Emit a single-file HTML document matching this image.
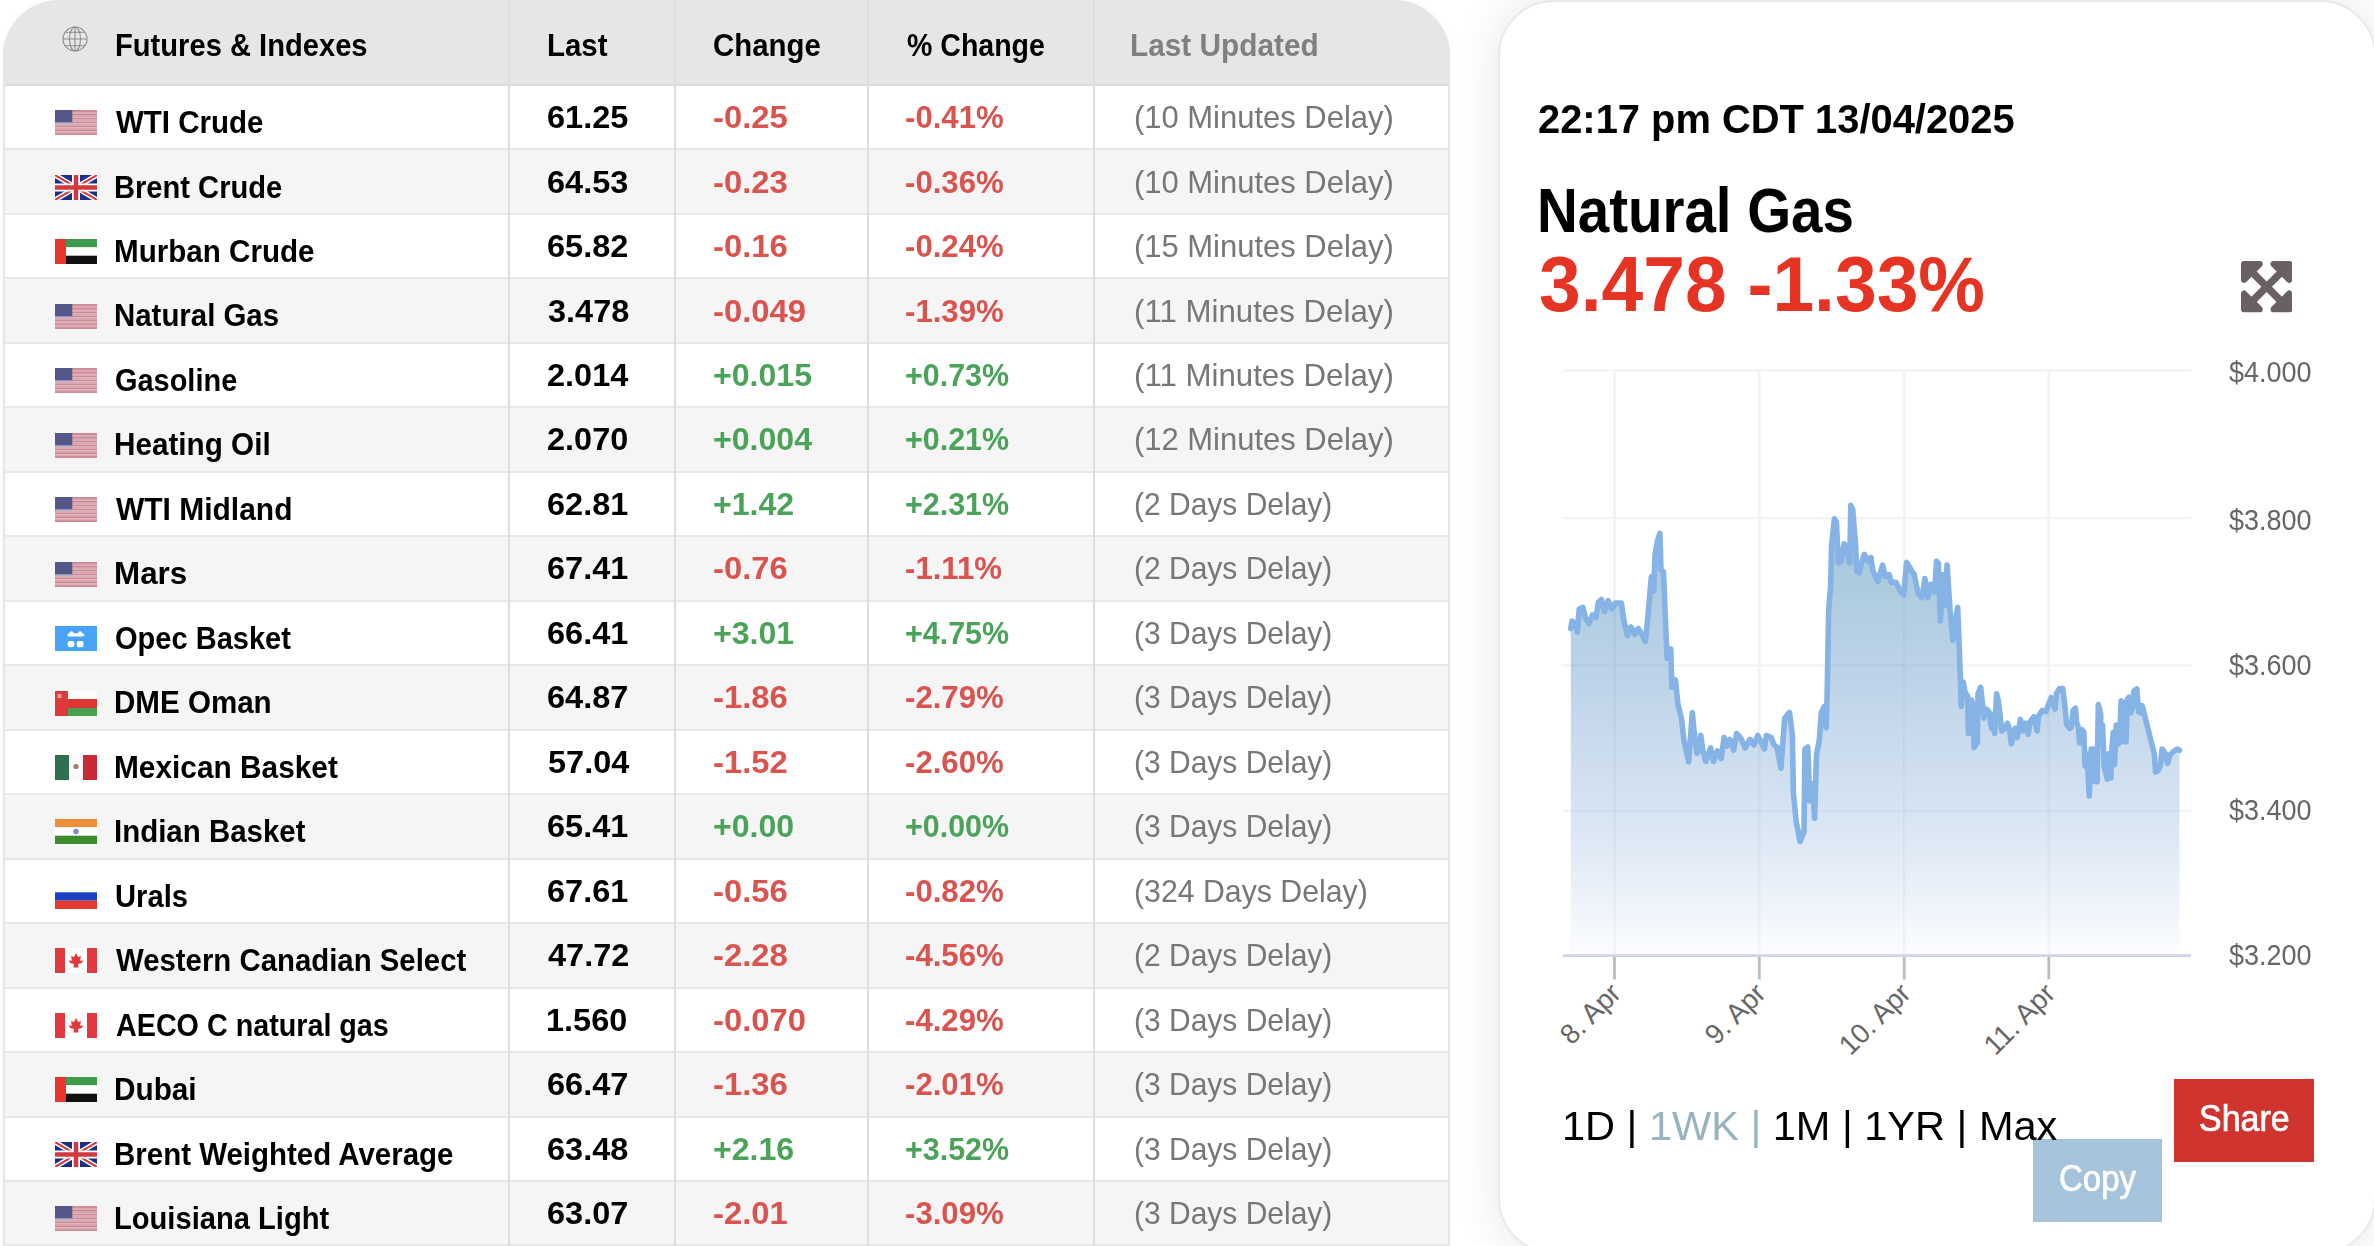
<!DOCTYPE html><html><head><meta charset="utf-8"><title>Futures &amp; Indexes</title><style>
*{margin:0;padding:0;box-sizing:border-box}
html,body{width:2374px;height:1246px;overflow:hidden;background:#fff}
body{position:relative;font-family:"Liberation Sans",sans-serif}
.a{position:absolute}
.t{position:absolute;white-space:nowrap;line-height:normal;transform-origin:0 0}
#tbl{position:absolute;left:3px;top:0;width:1447px;height:1300px;border-radius:56px 56px 0 0;overflow:hidden;background:#fff;box-shadow:0 0 6px rgba(0,0,0,0.04)}
#rp{position:absolute;left:1498px;top:0;width:878px;height:1254px;border-radius:56px;background:#fff;border:2px solid #e9e9e9;box-shadow:0 0 46px rgba(0,0,0,0.10)}
</style></head><body>
<div id="tbl">
<div class="a" style="left:0;top:0;width:1447px;height:84px;background:#e6e6e6"></div>
<div class="a" style="left:0;top:84px;width:1447px;height:2px;background:#dcdcdc"></div>
<div class="a" style="left:0;top:86.00px;width:1447px;height:62.47px;background:#fff"></div>
<div class="a" style="left:0;top:148.47px;width:1447px;height:2px;background:#e8e8e8"></div>
<div class="a" style="left:0;top:150.47px;width:1447px;height:62.47px;background:#f5f5f5"></div>
<div class="a" style="left:0;top:212.94px;width:1447px;height:2px;background:#e8e8e8"></div>
<div class="a" style="left:0;top:214.94px;width:1447px;height:62.47px;background:#fff"></div>
<div class="a" style="left:0;top:277.41px;width:1447px;height:2px;background:#e8e8e8"></div>
<div class="a" style="left:0;top:279.41px;width:1447px;height:62.47px;background:#f5f5f5"></div>
<div class="a" style="left:0;top:341.88px;width:1447px;height:2px;background:#e8e8e8"></div>
<div class="a" style="left:0;top:343.88px;width:1447px;height:62.47px;background:#fff"></div>
<div class="a" style="left:0;top:406.35px;width:1447px;height:2px;background:#e8e8e8"></div>
<div class="a" style="left:0;top:408.35px;width:1447px;height:62.47px;background:#f5f5f5"></div>
<div class="a" style="left:0;top:470.82px;width:1447px;height:2px;background:#e8e8e8"></div>
<div class="a" style="left:0;top:472.82px;width:1447px;height:62.47px;background:#fff"></div>
<div class="a" style="left:0;top:535.29px;width:1447px;height:2px;background:#e8e8e8"></div>
<div class="a" style="left:0;top:537.29px;width:1447px;height:62.47px;background:#f5f5f5"></div>
<div class="a" style="left:0;top:599.76px;width:1447px;height:2px;background:#e8e8e8"></div>
<div class="a" style="left:0;top:601.76px;width:1447px;height:62.47px;background:#fff"></div>
<div class="a" style="left:0;top:664.23px;width:1447px;height:2px;background:#e8e8e8"></div>
<div class="a" style="left:0;top:666.23px;width:1447px;height:62.47px;background:#f5f5f5"></div>
<div class="a" style="left:0;top:728.70px;width:1447px;height:2px;background:#e8e8e8"></div>
<div class="a" style="left:0;top:730.70px;width:1447px;height:62.47px;background:#fff"></div>
<div class="a" style="left:0;top:793.17px;width:1447px;height:2px;background:#e8e8e8"></div>
<div class="a" style="left:0;top:795.17px;width:1447px;height:62.47px;background:#f5f5f5"></div>
<div class="a" style="left:0;top:857.64px;width:1447px;height:2px;background:#e8e8e8"></div>
<div class="a" style="left:0;top:859.64px;width:1447px;height:62.47px;background:#fff"></div>
<div class="a" style="left:0;top:922.11px;width:1447px;height:2px;background:#e8e8e8"></div>
<div class="a" style="left:0;top:924.11px;width:1447px;height:62.47px;background:#f5f5f5"></div>
<div class="a" style="left:0;top:986.58px;width:1447px;height:2px;background:#e8e8e8"></div>
<div class="a" style="left:0;top:988.58px;width:1447px;height:62.47px;background:#fff"></div>
<div class="a" style="left:0;top:1051.05px;width:1447px;height:2px;background:#e8e8e8"></div>
<div class="a" style="left:0;top:1053.05px;width:1447px;height:62.47px;background:#f5f5f5"></div>
<div class="a" style="left:0;top:1115.52px;width:1447px;height:2px;background:#e8e8e8"></div>
<div class="a" style="left:0;top:1117.52px;width:1447px;height:62.47px;background:#fff"></div>
<div class="a" style="left:0;top:1179.99px;width:1447px;height:2px;background:#e8e8e8"></div>
<div class="a" style="left:0;top:1181.99px;width:1447px;height:62.47px;background:#f5f5f5"></div>
<div class="a" style="left:0;top:1244.46px;width:1447px;height:2px;background:#e8e8e8"></div>
<div class="a" style="left:0px;top:0;width:2px;height:1300px;background:#e6e6e6"></div>
<div class="a" style="left:505px;top:0;width:2px;height:1300px;background:#dedede"></div>
<div class="a" style="left:671px;top:0;width:2px;height:1300px;background:#dedede"></div>
<div class="a" style="left:864px;top:0;width:2px;height:1300px;background:#dedede"></div>
<div class="a" style="left:1090px;top:0;width:2px;height:1300px;background:#dedede"></div>
<div class="a" style="left:1445px;top:0;width:2px;height:1300px;background:#e6e6e6"></div>
</div>
<svg class="a" style="left:60.8px;top:25.2px" width="28" height="28" viewBox="0 0 28 28" fill="none" stroke="#8c8c8c" stroke-width="1.1"><circle cx="14" cy="14" r="12"/><ellipse cx="14" cy="14" rx="5.5" ry="12"/><path d="M14,2 V26 M2,14 H26 M4.3,7.2 H23.7 M4.3,20.8 H23.7"/></svg>
<svg class="a" style="left:55px;top:110.30px" width="42" height="25" viewBox="0 0 42 25"><rect x="0" y="0.000" width="42" height="1.973" fill="#cd8b95"/><rect x="0" y="1.923" width="42" height="1.973" fill="#dcaab1"/><rect x="0" y="3.846" width="42" height="1.973" fill="#cd8b95"/><rect x="0" y="5.769" width="42" height="1.973" fill="#dcaab1"/><rect x="0" y="7.692" width="42" height="1.973" fill="#cd8b95"/><rect x="0" y="9.615" width="42" height="1.973" fill="#dcaab1"/><rect x="0" y="11.538" width="42" height="1.973" fill="#cd8b95"/><rect x="0" y="13.462" width="42" height="1.973" fill="#dcaab1"/><rect x="0" y="15.385" width="42" height="1.973" fill="#cd8b95"/><rect x="0" y="17.308" width="42" height="1.973" fill="#dcaab1"/><rect x="0" y="19.231" width="42" height="1.973" fill="#cd8b95"/><rect x="0" y="21.154" width="42" height="1.973" fill="#dcaab1"/><rect x="0" y="23.077" width="42" height="1.973" fill="#cd8b95"/><rect x="0" y="0" width="17.3" height="12.5" fill="#545889"/><rect x="0" y="12.5" width="17.3" height="1.3" fill="#a9b3d6"/></svg>
<svg class="a" style="left:55px;top:174.77px" width="42" height="25" viewBox="0 0 42 25"><rect width="42" height="25" fill="#1b2f86"/><path d="M0,0 L42,25 M42,0 L0,25" stroke="#fff" stroke-width="5"/><path d="M0,0 L42,25 M42,0 L0,25" stroke="#d33a3f" stroke-width="2"/><path d="M21,0 V25 M0,12.5 H42" stroke="#fff" stroke-width="8"/><path d="M21,0 V25 M0,12.5 H42" stroke="#d33a3f" stroke-width="4.5"/></svg>
<svg class="a" style="left:55px;top:239.24px" width="42" height="25" viewBox="0 0 42 25"><rect width="42" height="8.4" fill="#3e9a4c"/><rect y="8.4" width="42" height="8.3" fill="#fff"/><rect y="16.7" width="42" height="8.3" fill="#111"/><rect width="11" height="25" fill="#e8352e"/></svg>
<svg class="a" style="left:55px;top:303.71px" width="42" height="25" viewBox="0 0 42 25"><rect x="0" y="0.000" width="42" height="1.973" fill="#cd8b95"/><rect x="0" y="1.923" width="42" height="1.973" fill="#dcaab1"/><rect x="0" y="3.846" width="42" height="1.973" fill="#cd8b95"/><rect x="0" y="5.769" width="42" height="1.973" fill="#dcaab1"/><rect x="0" y="7.692" width="42" height="1.973" fill="#cd8b95"/><rect x="0" y="9.615" width="42" height="1.973" fill="#dcaab1"/><rect x="0" y="11.538" width="42" height="1.973" fill="#cd8b95"/><rect x="0" y="13.462" width="42" height="1.973" fill="#dcaab1"/><rect x="0" y="15.385" width="42" height="1.973" fill="#cd8b95"/><rect x="0" y="17.308" width="42" height="1.973" fill="#dcaab1"/><rect x="0" y="19.231" width="42" height="1.973" fill="#cd8b95"/><rect x="0" y="21.154" width="42" height="1.973" fill="#dcaab1"/><rect x="0" y="23.077" width="42" height="1.973" fill="#cd8b95"/><rect x="0" y="0" width="17.3" height="12.5" fill="#545889"/><rect x="0" y="12.5" width="17.3" height="1.3" fill="#a9b3d6"/></svg>
<svg class="a" style="left:55px;top:368.18px" width="42" height="25" viewBox="0 0 42 25"><rect x="0" y="0.000" width="42" height="1.973" fill="#cd8b95"/><rect x="0" y="1.923" width="42" height="1.973" fill="#dcaab1"/><rect x="0" y="3.846" width="42" height="1.973" fill="#cd8b95"/><rect x="0" y="5.769" width="42" height="1.973" fill="#dcaab1"/><rect x="0" y="7.692" width="42" height="1.973" fill="#cd8b95"/><rect x="0" y="9.615" width="42" height="1.973" fill="#dcaab1"/><rect x="0" y="11.538" width="42" height="1.973" fill="#cd8b95"/><rect x="0" y="13.462" width="42" height="1.973" fill="#dcaab1"/><rect x="0" y="15.385" width="42" height="1.973" fill="#cd8b95"/><rect x="0" y="17.308" width="42" height="1.973" fill="#dcaab1"/><rect x="0" y="19.231" width="42" height="1.973" fill="#cd8b95"/><rect x="0" y="21.154" width="42" height="1.973" fill="#dcaab1"/><rect x="0" y="23.077" width="42" height="1.973" fill="#cd8b95"/><rect x="0" y="0" width="17.3" height="12.5" fill="#545889"/><rect x="0" y="12.5" width="17.3" height="1.3" fill="#a9b3d6"/></svg>
<svg class="a" style="left:55px;top:432.65px" width="42" height="25" viewBox="0 0 42 25"><rect x="0" y="0.000" width="42" height="1.973" fill="#cd8b95"/><rect x="0" y="1.923" width="42" height="1.973" fill="#dcaab1"/><rect x="0" y="3.846" width="42" height="1.973" fill="#cd8b95"/><rect x="0" y="5.769" width="42" height="1.973" fill="#dcaab1"/><rect x="0" y="7.692" width="42" height="1.973" fill="#cd8b95"/><rect x="0" y="9.615" width="42" height="1.973" fill="#dcaab1"/><rect x="0" y="11.538" width="42" height="1.973" fill="#cd8b95"/><rect x="0" y="13.462" width="42" height="1.973" fill="#dcaab1"/><rect x="0" y="15.385" width="42" height="1.973" fill="#cd8b95"/><rect x="0" y="17.308" width="42" height="1.973" fill="#dcaab1"/><rect x="0" y="19.231" width="42" height="1.973" fill="#cd8b95"/><rect x="0" y="21.154" width="42" height="1.973" fill="#dcaab1"/><rect x="0" y="23.077" width="42" height="1.973" fill="#cd8b95"/><rect x="0" y="0" width="17.3" height="12.5" fill="#545889"/><rect x="0" y="12.5" width="17.3" height="1.3" fill="#a9b3d6"/></svg>
<svg class="a" style="left:55px;top:497.12px" width="42" height="25" viewBox="0 0 42 25"><rect x="0" y="0.000" width="42" height="1.973" fill="#cd8b95"/><rect x="0" y="1.923" width="42" height="1.973" fill="#dcaab1"/><rect x="0" y="3.846" width="42" height="1.973" fill="#cd8b95"/><rect x="0" y="5.769" width="42" height="1.973" fill="#dcaab1"/><rect x="0" y="7.692" width="42" height="1.973" fill="#cd8b95"/><rect x="0" y="9.615" width="42" height="1.973" fill="#dcaab1"/><rect x="0" y="11.538" width="42" height="1.973" fill="#cd8b95"/><rect x="0" y="13.462" width="42" height="1.973" fill="#dcaab1"/><rect x="0" y="15.385" width="42" height="1.973" fill="#cd8b95"/><rect x="0" y="17.308" width="42" height="1.973" fill="#dcaab1"/><rect x="0" y="19.231" width="42" height="1.973" fill="#cd8b95"/><rect x="0" y="21.154" width="42" height="1.973" fill="#dcaab1"/><rect x="0" y="23.077" width="42" height="1.973" fill="#cd8b95"/><rect x="0" y="0" width="17.3" height="12.5" fill="#545889"/><rect x="0" y="12.5" width="17.3" height="1.3" fill="#a9b3d6"/></svg>
<svg class="a" style="left:55px;top:561.59px" width="42" height="25" viewBox="0 0 42 25"><rect x="0" y="0.000" width="42" height="1.973" fill="#cd8b95"/><rect x="0" y="1.923" width="42" height="1.973" fill="#dcaab1"/><rect x="0" y="3.846" width="42" height="1.973" fill="#cd8b95"/><rect x="0" y="5.769" width="42" height="1.973" fill="#dcaab1"/><rect x="0" y="7.692" width="42" height="1.973" fill="#cd8b95"/><rect x="0" y="9.615" width="42" height="1.973" fill="#dcaab1"/><rect x="0" y="11.538" width="42" height="1.973" fill="#cd8b95"/><rect x="0" y="13.462" width="42" height="1.973" fill="#dcaab1"/><rect x="0" y="15.385" width="42" height="1.973" fill="#cd8b95"/><rect x="0" y="17.308" width="42" height="1.973" fill="#dcaab1"/><rect x="0" y="19.231" width="42" height="1.973" fill="#cd8b95"/><rect x="0" y="21.154" width="42" height="1.973" fill="#dcaab1"/><rect x="0" y="23.077" width="42" height="1.973" fill="#cd8b95"/><rect x="0" y="0" width="17.3" height="12.5" fill="#545889"/><rect x="0" y="12.5" width="17.3" height="1.3" fill="#a9b3d6"/></svg>
<svg class="a" style="left:55px;top:626.06px" width="42" height="25" viewBox="0 0 42 25"><defs><filter id="ob" x="-20%" y="-20%" width="140%" height="140%"><feGaussianBlur stdDeviation="0.7"/></filter></defs><rect width="42" height="25" fill="#48a2f6"/><g fill="#fff" filter="url(#ob)"><rect x="12.5" y="7.3" width="16.8" height="3.2" rx="1.6"/><circle cx="16.5" cy="7.4" r="2.1"/><circle cx="25" cy="7.4" r="2.1"/><rect x="12.6" y="15" width="6.8" height="6.2" rx="2.4"/><rect x="21.8" y="15" width="6.6" height="6.2" rx="1.5"/></g></svg>
<svg class="a" style="left:55px;top:690.53px" width="42" height="25" viewBox="0 0 42 25"><rect width="42" height="8" fill="#fcfcfc"/><rect y="8" width="42" height="9" fill="#de3633"/><rect y="17" width="42" height="8" fill="#4aa052"/><rect width="13" height="25" fill="#df3a3b"/><rect x="2.5" y="3" width="4" height="4" fill="#e8a0a2"/></svg>
<svg class="a" style="left:55px;top:755.00px" width="42" height="25" viewBox="0 0 42 25"><rect width="14" height="25" fill="#2e7050"/><rect x="14" width="14" height="25" fill="#fafafa"/><rect x="28" width="14" height="25" fill="#c82a38"/><circle cx="21" cy="11.5" r="2.6" fill="#a8805e"/></svg>
<svg class="a" style="left:55px;top:819.47px" width="42" height="25" viewBox="0 0 42 25"><rect width="42" height="8.3" fill="#f08d3a"/><rect y="8.3" width="42" height="8.4" fill="#fff"/><rect y="16.7" width="42" height="8.3" fill="#3d8d2e"/><circle cx="21" cy="12.5" r="2.7" fill="#7c86de"/></svg>
<svg class="a" style="left:55px;top:883.94px" width="42" height="25" viewBox="0 0 42 25"><rect width="42" height="8.3" fill="#fff"/><rect y="8.3" width="42" height="8.4" fill="#1c3fc4"/><rect y="16.7" width="42" height="8.3" fill="#e63a30"/></svg>
<svg class="a" style="left:55px;top:948.41px" width="42" height="25" viewBox="0 0 42 25"><rect width="42" height="25" fill="#fff"/><rect width="10" height="25" fill="#e0393f"/><rect x="32" width="10" height="25" fill="#e0393f"/><path d="M21,5 L23,9 L26,8 L25,13 L28,12 L27,15 L23,16 L23.6,19.5 L18.4,19.5 L19,16 L15,15 L14,12 L17,13 L16,8 L19,9 Z" fill="#e0393f"/></svg>
<svg class="a" style="left:55px;top:1012.88px" width="42" height="25" viewBox="0 0 42 25"><rect width="42" height="25" fill="#fff"/><rect width="10" height="25" fill="#e0393f"/><rect x="32" width="10" height="25" fill="#e0393f"/><path d="M21,5 L23,9 L26,8 L25,13 L28,12 L27,15 L23,16 L23.6,19.5 L18.4,19.5 L19,16 L15,15 L14,12 L17,13 L16,8 L19,9 Z" fill="#e0393f"/></svg>
<svg class="a" style="left:55px;top:1077.35px" width="42" height="25" viewBox="0 0 42 25"><rect width="42" height="8.4" fill="#3e9a4c"/><rect y="8.4" width="42" height="8.3" fill="#fff"/><rect y="16.7" width="42" height="8.3" fill="#111"/><rect width="11" height="25" fill="#e8352e"/></svg>
<svg class="a" style="left:55px;top:1141.82px" width="42" height="25" viewBox="0 0 42 25"><rect width="42" height="25" fill="#1b2f86"/><path d="M0,0 L42,25 M42,0 L0,25" stroke="#fff" stroke-width="5"/><path d="M0,0 L42,25 M42,0 L0,25" stroke="#d33a3f" stroke-width="2"/><path d="M21,0 V25 M0,12.5 H42" stroke="#fff" stroke-width="8"/><path d="M21,0 V25 M0,12.5 H42" stroke="#d33a3f" stroke-width="4.5"/></svg>
<svg class="a" style="left:55px;top:1206.29px" width="42" height="25" viewBox="0 0 42 25"><rect x="0" y="0.000" width="42" height="1.973" fill="#cd8b95"/><rect x="0" y="1.923" width="42" height="1.973" fill="#dcaab1"/><rect x="0" y="3.846" width="42" height="1.973" fill="#cd8b95"/><rect x="0" y="5.769" width="42" height="1.973" fill="#dcaab1"/><rect x="0" y="7.692" width="42" height="1.973" fill="#cd8b95"/><rect x="0" y="9.615" width="42" height="1.973" fill="#dcaab1"/><rect x="0" y="11.538" width="42" height="1.973" fill="#cd8b95"/><rect x="0" y="13.462" width="42" height="1.973" fill="#dcaab1"/><rect x="0" y="15.385" width="42" height="1.973" fill="#cd8b95"/><rect x="0" y="17.308" width="42" height="1.973" fill="#dcaab1"/><rect x="0" y="19.231" width="42" height="1.973" fill="#cd8b95"/><rect x="0" y="21.154" width="42" height="1.973" fill="#dcaab1"/><rect x="0" y="23.077" width="42" height="1.973" fill="#cd8b95"/><rect x="0" y="0" width="17.3" height="12.5" fill="#545889"/><rect x="0" y="12.5" width="17.3" height="1.3" fill="#a9b3d6"/></svg>
<div id="rp"></div>
<svg class="a" style="left:1540px;top:340px" width="800" height="740" viewBox="1540 340 800 740"><defs><linearGradient id="fg" x1="0" y1="505" x2="0" y2="955" gradientUnits="userSpaceOnUse"><stop offset="0.0000" stop-color="rgb(165,198,220)"/><stop offset="0.1889" stop-color="rgb(174,204,224)"/><stop offset="0.3667" stop-color="rgb(188,210,232)"/><stop offset="0.5444" stop-color="rgb(203,220,238)"/><stop offset="0.6778" stop-color="rgb(214,228,243)"/><stop offset="0.8333" stop-color="rgb(232,239,248)"/><stop offset="1.0000" stop-color="rgb(252,253,255)"/></linearGradient></defs><rect x="1563" y="369.5" width="628" height="2" fill="#f2f2f2" transform="translate(0,0)" /><rect x="1563" y="517.3" width="628" height="2" fill="#f2f2f2" transform="translate(0,0)" /><rect x="1563" y="664.5" width="628" height="2" fill="#f2f2f2" transform="translate(0,0)" /><rect x="1563" y="809.7" width="628" height="2" fill="#f2f2f2" transform="translate(0,0)" /><rect x="1613.1" y="370.5" width="2.8" height="585" fill="#f3f3f3"/><rect x="1757.9" y="370.5" width="2.8" height="585" fill="#f3f3f3"/><rect x="1902.8" y="370.5" width="2.8" height="585" fill="#f3f3f3"/><rect x="2047.4" y="370.5" width="2.8" height="585" fill="#f3f3f3"/><path d="M1570.8,955.5 L1570.8,628.4 L1572.0,621.0 L1575.6,623.5 L1577.3,632.0 L1579.2,609.0 L1582.9,607.4 L1585.3,617.5 L1588.9,623.5 L1592.5,615.0 L1596.0,617.5 L1598.5,602.0 L1601.4,599.5 L1604.5,611.5 L1608.1,600.7 L1611.7,609.0 L1615.3,603.0 L1621.4,603.0 L1623.8,620.0 L1627.4,635.6 L1631.0,627.0 L1634.6,634.4 L1638.2,628.4 L1641.8,634.4 L1645.4,641.6 L1647.8,617.5 L1651.4,576.6 L1653.8,591.0 L1655.0,555.0 L1657.5,540.5 L1659.9,533.3 L1661.0,569.4 L1663.5,571.8 L1665.9,632.0 L1667.1,658.4 L1670.7,648.8 L1671.9,687.3 L1675.5,680.0 L1677.9,704.2 L1681.5,718.6 L1683.9,740.2 L1688.7,761.9 L1692.3,712.6 L1694.7,737.8 L1697.2,753.5 L1700.8,735.4 L1702.9,751.0 L1705.8,761.5 L1710.6,748.0 L1713.5,761.5 L1717.3,751.0 L1721.2,758.6 L1724.1,737.4 L1727.0,746.0 L1729.8,739.4 L1733.7,750.0 L1736.6,733.6 L1740.4,737.4 L1745.2,748.0 L1750.0,739.4 L1753.9,745.0 L1757.8,735.5 L1764.5,749.0 L1766.4,735.5 L1771.2,737.4 L1774.1,745.0 L1777.0,747.0 L1780.9,768.2 L1784.7,718.2 L1789.5,712.4 L1792.4,735.5 L1793.4,793.3 L1796.3,822.2 L1800.1,841.4 L1804.0,831.8 L1804.9,749.0 L1807.8,747.0 L1809.7,801.0 L1812.6,783.6 L1814.6,818.3 L1816.5,754.8 L1819.4,739.4 L1821.3,712.4 L1824.2,706.6 L1826.1,727.8 L1827.1,697.0 L1828.7,609.4 L1830.6,586.3 L1831.6,545.8 L1834.4,518.9 L1836.4,521.8 L1838.3,563.2 L1841.2,561.2 L1844.1,543.9 L1847.0,547.8 L1849.8,563.2 L1850.8,505.4 L1852.7,509.3 L1855.6,545.8 L1856.6,570.9 L1859.5,572.8 L1861.4,563.2 L1864.3,554.5 L1868.1,561.2 L1871.0,557.4 L1872.9,570.9 L1877.8,581.5 L1882.6,565.1 L1885.5,576.6 L1889.3,574.7 L1891.2,582.4 L1896.0,582.4 L1900.9,592.0 L1903.7,594.9 L1906.6,562.2 L1910.5,568.9 L1914.3,574.7 L1918.2,594.0 L1922.0,597.8 L1924.9,578.6 L1927.8,597.8 L1930.7,584.3 L1934.6,592.0 L1936.5,561.2 L1938.4,563.2 L1940.3,620.9 L1943.2,574.7 L1945.1,605.5 L1947.1,565.1 L1950.0,609.4 L1952.8,640.2 L1954.8,624.8 L1957.7,607.4 L1959.6,657.5 L1961.3,706.5 L1963.2,682.1 L1965.1,692.4 L1967.7,696.3 L1968.4,733.5 L1970.3,732.2 L1971.6,700.1 L1973.5,710.4 L1974.1,747.6 L1977.3,742.5 L1978.0,693.7 L1980.6,687.3 L1982.5,704.0 L1983.8,718.1 L1986.3,709.1 L1988.9,711.7 L1991.5,728.4 L1992.8,714.2 L1994.7,733.5 L1996.6,693.7 L1998.5,701.4 L2001.8,731.0 L2005.0,728.4 L2007.5,723.2 L2009.5,729.7 L2011.4,743.8 L2015.2,728.4 L2017.2,737.4 L2020.4,719.4 L2023.0,731.0 L2025.5,723.2 L2028.1,734.2 L2030.0,722.0 L2033.9,716.8 L2037.1,731.0 L2038.4,716.8 L2042.2,710.4 L2046.1,711.7 L2048.7,704.0 L2051.2,697.5 L2055.1,709.1 L2056.4,693.7 L2059.6,688.5 L2062.8,688.5 L2064.7,704.0 L2066.6,724.5 L2069.9,728.4 L2071.2,727.4 L2073.0,710.6 L2075.4,708.1 L2076.6,722.6 L2078.4,727.4 L2079.6,743.0 L2082.0,729.8 L2083.8,732.2 L2085.0,765.9 L2086.9,753.9 L2089.3,796.0 L2091.1,749.1 L2092.9,749.1 L2095.3,781.6 L2097.1,781.6 L2098.3,704.5 L2100.7,714.2 L2100.7,738.2 L2102.5,725.0 L2104.3,767.1 L2107.3,779.2 L2108.5,753.9 L2110.9,778.0 L2111.5,752.7 L2113.3,732.2 L2114.5,764.7 L2116.3,725.0 L2117.5,744.3 L2119.3,743.1 L2121.2,700.9 L2123.0,703.3 L2124.2,741.8 L2126.0,741.8 L2127.2,699.7 L2129.0,697.3 L2130.8,713.0 L2132.6,706.9 L2133.8,691.3 L2136.8,688.9 L2138.6,711.8 L2141.0,713.0 L2142.2,705.7 L2154.3,753.9 L2155.5,771.9 L2157.9,770.7 L2160.3,765.9 L2162.1,749.1 L2165.1,752.7 L2167.5,763.5 L2169.9,755.1 L2173.5,751.5 L2177.1,749.1 L2179.5,750.3 L2179.5,955.5 Z" fill="url(#fg)"/><clipPath id="ac"><path d="M1570.8,955.5 L1570.8,628.4 L1572.0,621.0 L1575.6,623.5 L1577.3,632.0 L1579.2,609.0 L1582.9,607.4 L1585.3,617.5 L1588.9,623.5 L1592.5,615.0 L1596.0,617.5 L1598.5,602.0 L1601.4,599.5 L1604.5,611.5 L1608.1,600.7 L1611.7,609.0 L1615.3,603.0 L1621.4,603.0 L1623.8,620.0 L1627.4,635.6 L1631.0,627.0 L1634.6,634.4 L1638.2,628.4 L1641.8,634.4 L1645.4,641.6 L1647.8,617.5 L1651.4,576.6 L1653.8,591.0 L1655.0,555.0 L1657.5,540.5 L1659.9,533.3 L1661.0,569.4 L1663.5,571.8 L1665.9,632.0 L1667.1,658.4 L1670.7,648.8 L1671.9,687.3 L1675.5,680.0 L1677.9,704.2 L1681.5,718.6 L1683.9,740.2 L1688.7,761.9 L1692.3,712.6 L1694.7,737.8 L1697.2,753.5 L1700.8,735.4 L1702.9,751.0 L1705.8,761.5 L1710.6,748.0 L1713.5,761.5 L1717.3,751.0 L1721.2,758.6 L1724.1,737.4 L1727.0,746.0 L1729.8,739.4 L1733.7,750.0 L1736.6,733.6 L1740.4,737.4 L1745.2,748.0 L1750.0,739.4 L1753.9,745.0 L1757.8,735.5 L1764.5,749.0 L1766.4,735.5 L1771.2,737.4 L1774.1,745.0 L1777.0,747.0 L1780.9,768.2 L1784.7,718.2 L1789.5,712.4 L1792.4,735.5 L1793.4,793.3 L1796.3,822.2 L1800.1,841.4 L1804.0,831.8 L1804.9,749.0 L1807.8,747.0 L1809.7,801.0 L1812.6,783.6 L1814.6,818.3 L1816.5,754.8 L1819.4,739.4 L1821.3,712.4 L1824.2,706.6 L1826.1,727.8 L1827.1,697.0 L1828.7,609.4 L1830.6,586.3 L1831.6,545.8 L1834.4,518.9 L1836.4,521.8 L1838.3,563.2 L1841.2,561.2 L1844.1,543.9 L1847.0,547.8 L1849.8,563.2 L1850.8,505.4 L1852.7,509.3 L1855.6,545.8 L1856.6,570.9 L1859.5,572.8 L1861.4,563.2 L1864.3,554.5 L1868.1,561.2 L1871.0,557.4 L1872.9,570.9 L1877.8,581.5 L1882.6,565.1 L1885.5,576.6 L1889.3,574.7 L1891.2,582.4 L1896.0,582.4 L1900.9,592.0 L1903.7,594.9 L1906.6,562.2 L1910.5,568.9 L1914.3,574.7 L1918.2,594.0 L1922.0,597.8 L1924.9,578.6 L1927.8,597.8 L1930.7,584.3 L1934.6,592.0 L1936.5,561.2 L1938.4,563.2 L1940.3,620.9 L1943.2,574.7 L1945.1,605.5 L1947.1,565.1 L1950.0,609.4 L1952.8,640.2 L1954.8,624.8 L1957.7,607.4 L1959.6,657.5 L1961.3,706.5 L1963.2,682.1 L1965.1,692.4 L1967.7,696.3 L1968.4,733.5 L1970.3,732.2 L1971.6,700.1 L1973.5,710.4 L1974.1,747.6 L1977.3,742.5 L1978.0,693.7 L1980.6,687.3 L1982.5,704.0 L1983.8,718.1 L1986.3,709.1 L1988.9,711.7 L1991.5,728.4 L1992.8,714.2 L1994.7,733.5 L1996.6,693.7 L1998.5,701.4 L2001.8,731.0 L2005.0,728.4 L2007.5,723.2 L2009.5,729.7 L2011.4,743.8 L2015.2,728.4 L2017.2,737.4 L2020.4,719.4 L2023.0,731.0 L2025.5,723.2 L2028.1,734.2 L2030.0,722.0 L2033.9,716.8 L2037.1,731.0 L2038.4,716.8 L2042.2,710.4 L2046.1,711.7 L2048.7,704.0 L2051.2,697.5 L2055.1,709.1 L2056.4,693.7 L2059.6,688.5 L2062.8,688.5 L2064.7,704.0 L2066.6,724.5 L2069.9,728.4 L2071.2,727.4 L2073.0,710.6 L2075.4,708.1 L2076.6,722.6 L2078.4,727.4 L2079.6,743.0 L2082.0,729.8 L2083.8,732.2 L2085.0,765.9 L2086.9,753.9 L2089.3,796.0 L2091.1,749.1 L2092.9,749.1 L2095.3,781.6 L2097.1,781.6 L2098.3,704.5 L2100.7,714.2 L2100.7,738.2 L2102.5,725.0 L2104.3,767.1 L2107.3,779.2 L2108.5,753.9 L2110.9,778.0 L2111.5,752.7 L2113.3,732.2 L2114.5,764.7 L2116.3,725.0 L2117.5,744.3 L2119.3,743.1 L2121.2,700.9 L2123.0,703.3 L2124.2,741.8 L2126.0,741.8 L2127.2,699.7 L2129.0,697.3 L2130.8,713.0 L2132.6,706.9 L2133.8,691.3 L2136.8,688.9 L2138.6,711.8 L2141.0,713.0 L2142.2,705.7 L2154.3,753.9 L2155.5,771.9 L2157.9,770.7 L2160.3,765.9 L2162.1,749.1 L2165.1,752.7 L2167.5,763.5 L2169.9,755.1 L2173.5,751.5 L2177.1,749.1 L2179.5,750.3 L2179.5,955.5 Z"/></clipPath><g clip-path="url(#ac)" fill="rgba(40,40,80,0.035)"><rect x="1563" y="664.5" width="628" height="2"/><rect x="1563" y="809.7" width="628" height="2"/><rect x="1613.1" y="370.5" width="2.8" height="585"/><rect x="1757.9" y="370.5" width="2.8" height="585"/><rect x="1902.8" y="370.5" width="2.8" height="585"/><rect x="2047.4" y="370.5" width="2.8" height="585"/></g><path d="M1570.8,628.4 L1572.0,621.0 L1575.6,623.5 L1577.3,632.0 L1579.2,609.0 L1582.9,607.4 L1585.3,617.5 L1588.9,623.5 L1592.5,615.0 L1596.0,617.5 L1598.5,602.0 L1601.4,599.5 L1604.5,611.5 L1608.1,600.7 L1611.7,609.0 L1615.3,603.0 L1621.4,603.0 L1623.8,620.0 L1627.4,635.6 L1631.0,627.0 L1634.6,634.4 L1638.2,628.4 L1641.8,634.4 L1645.4,641.6 L1647.8,617.5 L1651.4,576.6 L1653.8,591.0 L1655.0,555.0 L1657.5,540.5 L1659.9,533.3 L1661.0,569.4 L1663.5,571.8 L1665.9,632.0 L1667.1,658.4 L1670.7,648.8 L1671.9,687.3 L1675.5,680.0 L1677.9,704.2 L1681.5,718.6 L1683.9,740.2 L1688.7,761.9 L1692.3,712.6 L1694.7,737.8 L1697.2,753.5 L1700.8,735.4 L1702.9,751.0 L1705.8,761.5 L1710.6,748.0 L1713.5,761.5 L1717.3,751.0 L1721.2,758.6 L1724.1,737.4 L1727.0,746.0 L1729.8,739.4 L1733.7,750.0 L1736.6,733.6 L1740.4,737.4 L1745.2,748.0 L1750.0,739.4 L1753.9,745.0 L1757.8,735.5 L1764.5,749.0 L1766.4,735.5 L1771.2,737.4 L1774.1,745.0 L1777.0,747.0 L1780.9,768.2 L1784.7,718.2 L1789.5,712.4 L1792.4,735.5 L1793.4,793.3 L1796.3,822.2 L1800.1,841.4 L1804.0,831.8 L1804.9,749.0 L1807.8,747.0 L1809.7,801.0 L1812.6,783.6 L1814.6,818.3 L1816.5,754.8 L1819.4,739.4 L1821.3,712.4 L1824.2,706.6 L1826.1,727.8 L1827.1,697.0 L1828.7,609.4 L1830.6,586.3 L1831.6,545.8 L1834.4,518.9 L1836.4,521.8 L1838.3,563.2 L1841.2,561.2 L1844.1,543.9 L1847.0,547.8 L1849.8,563.2 L1850.8,505.4 L1852.7,509.3 L1855.6,545.8 L1856.6,570.9 L1859.5,572.8 L1861.4,563.2 L1864.3,554.5 L1868.1,561.2 L1871.0,557.4 L1872.9,570.9 L1877.8,581.5 L1882.6,565.1 L1885.5,576.6 L1889.3,574.7 L1891.2,582.4 L1896.0,582.4 L1900.9,592.0 L1903.7,594.9 L1906.6,562.2 L1910.5,568.9 L1914.3,574.7 L1918.2,594.0 L1922.0,597.8 L1924.9,578.6 L1927.8,597.8 L1930.7,584.3 L1934.6,592.0 L1936.5,561.2 L1938.4,563.2 L1940.3,620.9 L1943.2,574.7 L1945.1,605.5 L1947.1,565.1 L1950.0,609.4 L1952.8,640.2 L1954.8,624.8 L1957.7,607.4 L1959.6,657.5 L1961.3,706.5 L1963.2,682.1 L1965.1,692.4 L1967.7,696.3 L1968.4,733.5 L1970.3,732.2 L1971.6,700.1 L1973.5,710.4 L1974.1,747.6 L1977.3,742.5 L1978.0,693.7 L1980.6,687.3 L1982.5,704.0 L1983.8,718.1 L1986.3,709.1 L1988.9,711.7 L1991.5,728.4 L1992.8,714.2 L1994.7,733.5 L1996.6,693.7 L1998.5,701.4 L2001.8,731.0 L2005.0,728.4 L2007.5,723.2 L2009.5,729.7 L2011.4,743.8 L2015.2,728.4 L2017.2,737.4 L2020.4,719.4 L2023.0,731.0 L2025.5,723.2 L2028.1,734.2 L2030.0,722.0 L2033.9,716.8 L2037.1,731.0 L2038.4,716.8 L2042.2,710.4 L2046.1,711.7 L2048.7,704.0 L2051.2,697.5 L2055.1,709.1 L2056.4,693.7 L2059.6,688.5 L2062.8,688.5 L2064.7,704.0 L2066.6,724.5 L2069.9,728.4 L2071.2,727.4 L2073.0,710.6 L2075.4,708.1 L2076.6,722.6 L2078.4,727.4 L2079.6,743.0 L2082.0,729.8 L2083.8,732.2 L2085.0,765.9 L2086.9,753.9 L2089.3,796.0 L2091.1,749.1 L2092.9,749.1 L2095.3,781.6 L2097.1,781.6 L2098.3,704.5 L2100.7,714.2 L2100.7,738.2 L2102.5,725.0 L2104.3,767.1 L2107.3,779.2 L2108.5,753.9 L2110.9,778.0 L2111.5,752.7 L2113.3,732.2 L2114.5,764.7 L2116.3,725.0 L2117.5,744.3 L2119.3,743.1 L2121.2,700.9 L2123.0,703.3 L2124.2,741.8 L2126.0,741.8 L2127.2,699.7 L2129.0,697.3 L2130.8,713.0 L2132.6,706.9 L2133.8,691.3 L2136.8,688.9 L2138.6,711.8 L2141.0,713.0 L2142.2,705.7 L2154.3,753.9 L2155.5,771.9 L2157.9,770.7 L2160.3,765.9 L2162.1,749.1 L2165.1,752.7 L2167.5,763.5 L2169.9,755.1 L2173.5,751.5 L2177.1,749.1 L2179.5,750.3" fill="none" stroke="#86b3e6" stroke-width="5.6" stroke-linejoin="round" stroke-linecap="round"/><rect x="1563" y="954.2" width="628" height="2.8" fill="#ccd6eb"/><rect x="1613.1" y="957" width="2.8" height="22.5" fill="#bdbdbd"/><rect x="1757.9" y="957" width="2.8" height="22.5" fill="#bdbdbd"/><rect x="1902.8" y="957" width="2.8" height="22.5" fill="#bdbdbd"/><rect x="2047.4" y="957" width="2.8" height="22.5" fill="#bdbdbd"/><text x="1622.5" y="995.0" transform="rotate(-45 1622.5 995)" textLength="72.1" lengthAdjust="spacingAndGlyphs" text-anchor="end" font-family="Liberation Sans" font-size="28" fill="#666">8. Apr</text><text x="1767.3" y="995.0" transform="rotate(-45 1767.3 995)" textLength="72.1" lengthAdjust="spacingAndGlyphs" text-anchor="end" font-family="Liberation Sans" font-size="28" fill="#666">9. Apr</text><text x="1912.2" y="995.0" transform="rotate(-45 1912.2 995)" textLength="87.1" lengthAdjust="spacingAndGlyphs" text-anchor="end" font-family="Liberation Sans" font-size="28" fill="#666">10. Apr</text><text x="2056.8" y="995.0" transform="rotate(-45 2056.8 995)" textLength="87.1" lengthAdjust="spacingAndGlyphs" text-anchor="end" font-family="Liberation Sans" font-size="28" fill="#666">11. Apr</text></svg>
<svg class="a" style="left:2241px;top:261.2px" width="51.3" height="51.4" viewBox="0 0 100 100"><g fill="#6b5f66" stroke="#6b5f66" stroke-width="12" stroke-linejoin="round"><polygon points="6,6 36.5,6 6,36.5"/><polygon points="94,6 63.5,6 94,36.5"/><polygon points="6,94 36.5,94 6,63.5"/><polygon points="94,94 63.5,94 94,63.5"/></g><path d="M20,20 L80,80 M80,20 L20,80" stroke="#6b5f66" stroke-width="14.6"/></svg>
<div class="a" style="left:2174px;top:1079px;width:140px;height:83px;background:#cf342e"></div>
<div class="a" style="left:2033px;top:1139px;width:129px;height:83px;background:#a5c4dc"></div>
<div class="t" id="h0" style="left:115.08px;top:26.64px;font-size:32px;font-weight:700;color:#000;transform:scaleX(0.9104);">Futures &amp; Indexes</div>
<div class="t" id="h1" style="left:546.66px;top:26.64px;font-size:32px;font-weight:700;color:#000;transform:scaleX(0.9199);">Last</div>
<div class="t" id="h2" style="left:712.78px;top:26.64px;font-size:32px;font-weight:700;color:#000;transform:scaleX(0.9182);">Change</div>
<div class="t" id="h3" style="left:906.70px;top:26.64px;font-size:32px;font-weight:700;color:#000;transform:scaleX(0.8915);">% Change</div>
<div class="t" id="h4" style="left:1129.64px;top:26.64px;font-size:32px;font-weight:700;color:#808080;transform:scaleX(0.9310);">Last Updated</div>
<div class="t" id="n0" style="left:115.60px;top:104.04px;font-size:32px;font-weight:700;color:#000;transform:scaleX(0.9216);">WTI Crude</div>
<div class="t" id="l0" style="left:547.28px;top:99.14px;font-size:32px;font-weight:700;color:#000;transform:scaleX(1.0150);">61.25</div>
<div class="t" id="c0" style="left:712.58px;top:99.14px;font-size:32px;font-weight:700;color:#d9534f;transform:scaleX(1.0250);">-0.25</div>
<div class="t" id="p0" style="left:905.03px;top:99.14px;font-size:32px;font-weight:700;color:#d9534f;transform:scaleX(0.9740);">-0.41%</div>
<div class="t" id="u0" style="left:1133.73px;top:99.14px;font-size:32px;font-weight:400;color:#777;transform:scaleX(0.9673);">(10 Minutes Delay)</div>
<div class="t" id="n1" style="left:113.78px;top:168.51px;font-size:32px;font-weight:700;color:#000;transform:scaleX(0.9099);">Brent Crude</div>
<div class="t" id="l1" style="left:547.28px;top:163.61px;font-size:32px;font-weight:700;color:#000;transform:scaleX(1.0150);">64.53</div>
<div class="t" id="c1" style="left:712.58px;top:163.61px;font-size:32px;font-weight:700;color:#d9534f;transform:scaleX(1.0250);">-0.23</div>
<div class="t" id="p1" style="left:905.03px;top:163.61px;font-size:32px;font-weight:700;color:#d9534f;transform:scaleX(0.9740);">-0.36%</div>
<div class="t" id="u1" style="left:1133.73px;top:163.61px;font-size:32px;font-weight:400;color:#777;transform:scaleX(0.9673);">(10 Minutes Delay)</div>
<div class="t" id="n2" style="left:113.75px;top:232.98px;font-size:32px;font-weight:700;color:#000;transform:scaleX(0.9244);">Murban Crude</div>
<div class="t" id="l2" style="left:547.28px;top:228.08px;font-size:32px;font-weight:700;color:#000;transform:scaleX(1.0150);">65.82</div>
<div class="t" id="c2" style="left:712.58px;top:228.08px;font-size:32px;font-weight:700;color:#d9534f;transform:scaleX(1.0250);">-0.16</div>
<div class="t" id="p2" style="left:905.03px;top:228.08px;font-size:32px;font-weight:700;color:#d9534f;transform:scaleX(0.9740);">-0.24%</div>
<div class="t" id="u2" style="left:1133.73px;top:228.08px;font-size:32px;font-weight:400;color:#777;transform:scaleX(0.9673);">(15 Minutes Delay)</div>
<div class="t" id="n3" style="left:113.76px;top:297.45px;font-size:32px;font-weight:700;color:#000;transform:scaleX(0.9190);">Natural Gas</div>
<div class="t" id="l3" style="left:548.30px;top:292.55px;font-size:32px;font-weight:700;color:#000;transform:scaleX(1.0150);">3.478</div>
<div class="t" id="c3" style="left:712.58px;top:292.55px;font-size:32px;font-weight:700;color:#d9534f;transform:scaleX(1.0250);">-0.049</div>
<div class="t" id="p3" style="left:905.03px;top:292.55px;font-size:32px;font-weight:700;color:#d9534f;transform:scaleX(0.9740);">-1.39%</div>
<div class="t" id="u3" style="left:1133.72px;top:292.55px;font-size:32px;font-weight:400;color:#777;transform:scaleX(0.9760);">(11 Minutes Delay)</div>
<div class="t" id="n4" style="left:114.70px;top:361.92px;font-size:32px;font-weight:700;color:#000;transform:scaleX(0.9043);">Gasoline</div>
<div class="t" id="l4" style="left:547.28px;top:357.02px;font-size:32px;font-weight:700;color:#000;transform:scaleX(1.0150);">2.014</div>
<div class="t" id="c4" style="left:712.60px;top:357.02px;font-size:32px;font-weight:700;color:#4ba35a;transform:scaleX(1.0030);">+0.015</div>
<div class="t" id="p4" style="left:905.05px;top:357.02px;font-size:32px;font-weight:700;color:#4ba35a;transform:scaleX(0.9510);">+0.73%</div>
<div class="t" id="u4" style="left:1133.72px;top:357.02px;font-size:32px;font-weight:400;color:#777;transform:scaleX(0.9760);">(11 Minutes Delay)</div>
<div class="t" id="n5" style="left:113.74px;top:426.39px;font-size:32px;font-weight:700;color:#000;transform:scaleX(0.9278);">Heating Oil</div>
<div class="t" id="l5" style="left:547.28px;top:421.49px;font-size:32px;font-weight:700;color:#000;transform:scaleX(1.0150);">2.070</div>
<div class="t" id="c5" style="left:712.60px;top:421.49px;font-size:32px;font-weight:700;color:#4ba35a;transform:scaleX(1.0030);">+0.004</div>
<div class="t" id="p5" style="left:905.05px;top:421.49px;font-size:32px;font-weight:700;color:#4ba35a;transform:scaleX(0.9510);">+0.21%</div>
<div class="t" id="u5" style="left:1133.73px;top:421.49px;font-size:32px;font-weight:400;color:#777;transform:scaleX(0.9673);">(12 Minutes Delay)</div>
<div class="t" id="n6" style="left:115.60px;top:490.86px;font-size:32px;font-weight:700;color:#000;transform:scaleX(0.9365);">WTI Midland</div>
<div class="t" id="l6" style="left:547.28px;top:485.96px;font-size:32px;font-weight:700;color:#000;transform:scaleX(1.0150);">62.81</div>
<div class="t" id="c6" style="left:712.60px;top:485.96px;font-size:32px;font-weight:700;color:#4ba35a;transform:scaleX(1.0030);">+1.42</div>
<div class="t" id="p6" style="left:905.05px;top:485.96px;font-size:32px;font-weight:700;color:#4ba35a;transform:scaleX(0.9510);">+2.31%</div>
<div class="t" id="u6" style="left:1133.76px;top:485.96px;font-size:32px;font-weight:400;color:#777;transform:scaleX(0.9371);">(2 Days Delay)</div>
<div class="t" id="n7" style="left:113.64px;top:555.33px;font-size:32px;font-weight:700;color:#000;transform:scaleX(0.9804);">Mars</div>
<div class="t" id="l7" style="left:547.28px;top:550.43px;font-size:32px;font-weight:700;color:#000;transform:scaleX(1.0150);">67.41</div>
<div class="t" id="c7" style="left:712.58px;top:550.43px;font-size:32px;font-weight:700;color:#d9534f;transform:scaleX(1.0250);">-0.76</div>
<div class="t" id="p7" style="left:905.03px;top:550.43px;font-size:32px;font-weight:700;color:#d9534f;transform:scaleX(0.9740);">-1.11%</div>
<div class="t" id="u7" style="left:1133.76px;top:550.43px;font-size:32px;font-weight:400;color:#777;transform:scaleX(0.9371);">(2 Days Delay)</div>
<div class="t" id="n8" style="left:114.69px;top:619.80px;font-size:32px;font-weight:700;color:#000;transform:scaleX(0.9073);">Opec Basket</div>
<div class="t" id="l8" style="left:547.28px;top:614.90px;font-size:32px;font-weight:700;color:#000;transform:scaleX(1.0150);">66.41</div>
<div class="t" id="c8" style="left:712.60px;top:614.90px;font-size:32px;font-weight:700;color:#4ba35a;transform:scaleX(1.0030);">+3.01</div>
<div class="t" id="p8" style="left:905.05px;top:614.90px;font-size:32px;font-weight:700;color:#4ba35a;transform:scaleX(0.9510);">+4.75%</div>
<div class="t" id="u8" style="left:1133.76px;top:614.90px;font-size:32px;font-weight:400;color:#777;transform:scaleX(0.9371);">(3 Days Delay)</div>
<div class="t" id="n9" style="left:113.75px;top:684.27px;font-size:32px;font-weight:700;color:#000;transform:scaleX(0.9238);">DME Oman</div>
<div class="t" id="l9" style="left:547.28px;top:679.37px;font-size:32px;font-weight:700;color:#000;transform:scaleX(1.0150);">64.87</div>
<div class="t" id="c9" style="left:712.58px;top:679.37px;font-size:32px;font-weight:700;color:#d9534f;transform:scaleX(1.0250);">-1.86</div>
<div class="t" id="p9" style="left:905.03px;top:679.37px;font-size:32px;font-weight:700;color:#d9534f;transform:scaleX(0.9740);">-2.79%</div>
<div class="t" id="u9" style="left:1133.76px;top:679.37px;font-size:32px;font-weight:400;color:#777;transform:scaleX(0.9371);">(3 Days Delay)</div>
<div class="t" id="n10" style="left:113.74px;top:748.74px;font-size:32px;font-weight:700;color:#000;transform:scaleX(0.9322);">Mexican Basket</div>
<div class="t" id="l10" style="left:548.30px;top:743.84px;font-size:32px;font-weight:700;color:#000;transform:scaleX(1.0150);">57.04</div>
<div class="t" id="c10" style="left:712.58px;top:743.84px;font-size:32px;font-weight:700;color:#d9534f;transform:scaleX(1.0250);">-1.52</div>
<div class="t" id="p10" style="left:905.03px;top:743.84px;font-size:32px;font-weight:700;color:#d9534f;transform:scaleX(0.9740);">-2.60%</div>
<div class="t" id="u10" style="left:1133.76px;top:743.84px;font-size:32px;font-weight:400;color:#777;transform:scaleX(0.9371);">(3 Days Delay)</div>
<div class="t" id="n11" style="left:113.76px;top:813.21px;font-size:32px;font-weight:700;color:#000;transform:scaleX(0.9205);">Indian Basket</div>
<div class="t" id="l11" style="left:547.28px;top:808.31px;font-size:32px;font-weight:700;color:#000;transform:scaleX(1.0150);">65.41</div>
<div class="t" id="c11" style="left:712.60px;top:808.31px;font-size:32px;font-weight:700;color:#4ba35a;transform:scaleX(1.0030);">+0.00</div>
<div class="t" id="p11" style="left:905.05px;top:808.31px;font-size:32px;font-weight:700;color:#4ba35a;transform:scaleX(0.9510);">+0.00%</div>
<div class="t" id="u11" style="left:1133.76px;top:808.31px;font-size:32px;font-weight:400;color:#777;transform:scaleX(0.9371);">(3 Days Delay)</div>
<div class="t" id="n12" style="left:114.69px;top:877.68px;font-size:32px;font-weight:700;color:#000;transform:scaleX(0.9125);">Urals</div>
<div class="t" id="l12" style="left:547.28px;top:872.78px;font-size:32px;font-weight:700;color:#000;transform:scaleX(1.0150);">67.61</div>
<div class="t" id="c12" style="left:712.58px;top:872.78px;font-size:32px;font-weight:700;color:#d9534f;transform:scaleX(1.0250);">-0.56</div>
<div class="t" id="p12" style="left:905.03px;top:872.78px;font-size:32px;font-weight:700;color:#d9534f;transform:scaleX(0.9740);">-0.82%</div>
<div class="t" id="u12" style="left:1133.75px;top:872.78px;font-size:32px;font-weight:400;color:#777;transform:scaleX(0.9454);">(324 Days Delay)</div>
<div class="t" id="n13" style="left:115.60px;top:942.15px;font-size:32px;font-weight:700;color:#000;transform:scaleX(0.9175);">Western Canadian Select</div>
<div class="t" id="l13" style="left:548.30px;top:937.25px;font-size:32px;font-weight:700;color:#000;transform:scaleX(1.0150);">47.72</div>
<div class="t" id="c13" style="left:712.58px;top:937.25px;font-size:32px;font-weight:700;color:#d9534f;transform:scaleX(1.0250);">-2.28</div>
<div class="t" id="p13" style="left:905.03px;top:937.25px;font-size:32px;font-weight:700;color:#d9534f;transform:scaleX(0.9740);">-4.56%</div>
<div class="t" id="u13" style="left:1133.76px;top:937.25px;font-size:32px;font-weight:400;color:#777;transform:scaleX(0.9371);">(2 Days Delay)</div>
<div class="t" id="n14" style="left:115.60px;top:1006.62px;font-size:32px;font-weight:700;color:#000;transform:scaleX(0.8972);">AECO C natural gas</div>
<div class="t" id="l14" style="left:546.27px;top:1001.72px;font-size:32px;font-weight:700;color:#000;transform:scaleX(1.0150);">1.560</div>
<div class="t" id="c14" style="left:712.58px;top:1001.72px;font-size:32px;font-weight:700;color:#d9534f;transform:scaleX(1.0250);">-0.070</div>
<div class="t" id="p14" style="left:905.03px;top:1001.72px;font-size:32px;font-weight:700;color:#d9534f;transform:scaleX(0.9740);">-4.29%</div>
<div class="t" id="u14" style="left:1133.76px;top:1001.72px;font-size:32px;font-weight:400;color:#777;transform:scaleX(0.9371);">(3 Days Delay)</div>
<div class="t" id="n15" style="left:113.74px;top:1071.09px;font-size:32px;font-weight:700;color:#000;transform:scaleX(0.9294);">Dubai</div>
<div class="t" id="l15" style="left:547.28px;top:1066.19px;font-size:32px;font-weight:700;color:#000;transform:scaleX(1.0150);">66.47</div>
<div class="t" id="c15" style="left:712.58px;top:1066.19px;font-size:32px;font-weight:700;color:#d9534f;transform:scaleX(1.0250);">-1.36</div>
<div class="t" id="p15" style="left:905.03px;top:1066.19px;font-size:32px;font-weight:700;color:#d9534f;transform:scaleX(0.9740);">-2.01%</div>
<div class="t" id="u15" style="left:1133.76px;top:1066.19px;font-size:32px;font-weight:400;color:#777;transform:scaleX(0.9371);">(3 Days Delay)</div>
<div class="t" id="n16" style="left:113.76px;top:1135.56px;font-size:32px;font-weight:700;color:#000;transform:scaleX(0.9208);">Brent Weighted Average</div>
<div class="t" id="l16" style="left:547.28px;top:1130.66px;font-size:32px;font-weight:700;color:#000;transform:scaleX(1.0150);">63.48</div>
<div class="t" id="c16" style="left:712.60px;top:1130.66px;font-size:32px;font-weight:700;color:#4ba35a;transform:scaleX(1.0030);">+2.16</div>
<div class="t" id="p16" style="left:905.05px;top:1130.66px;font-size:32px;font-weight:700;color:#4ba35a;transform:scaleX(0.9510);">+3.52%</div>
<div class="t" id="u16" style="left:1133.76px;top:1130.66px;font-size:32px;font-weight:400;color:#777;transform:scaleX(0.9371);">(3 Days Delay)</div>
<div class="t" id="n17" style="left:113.78px;top:1200.03px;font-size:32px;font-weight:700;color:#000;transform:scaleX(0.9102);">Louisiana Light</div>
<div class="t" id="l17" style="left:547.28px;top:1195.13px;font-size:32px;font-weight:700;color:#000;transform:scaleX(1.0150);">63.07</div>
<div class="t" id="c17" style="left:712.58px;top:1195.13px;font-size:32px;font-weight:700;color:#d9534f;transform:scaleX(1.0250);">-2.01</div>
<div class="t" id="p17" style="left:905.03px;top:1195.13px;font-size:32px;font-weight:700;color:#d9534f;transform:scaleX(0.9740);">-3.09%</div>
<div class="t" id="u17" style="left:1133.76px;top:1195.13px;font-size:32px;font-weight:400;color:#777;transform:scaleX(0.9371);">(3 Days Delay)</div>
<div class="t" id="date" style="left:1537.60px;top:97.00px;font-size:40px;font-weight:700;color:#000;transform:scaleX(0.9971);">22:17 pm CDT 13/04/2025</div>
<div class="t" id="ng" style="left:1536.82px;top:173.99px;font-size:63px;font-weight:700;color:#000;transform:scaleX(0.8961);">Natural Gas</div>
<div class="t" id="px" style="left:1538.73px;top:239.62px;font-size:77px;font-weight:700;color:#e53424;transform:scaleX(0.9737);">3.478 -1.33%</div>
<div class="t" id="y0" style="left:2229.40px;top:355.75px;font-size:29px;font-weight:400;color:#666;transform:scaleX(0.9307);">$4.000</div>
<div class="t" id="y1" style="left:2229.40px;top:503.75px;font-size:29px;font-weight:400;color:#666;transform:scaleX(0.9307);">$3.800</div>
<div class="t" id="y2" style="left:2229.40px;top:648.75px;font-size:29px;font-weight:400;color:#666;transform:scaleX(0.9307);">$3.600</div>
<div class="t" id="y3" style="left:2229.40px;top:793.75px;font-size:29px;font-weight:400;color:#666;transform:scaleX(0.9307);">$3.400</div>
<div class="t" id="y4" style="left:2229.40px;top:938.75px;font-size:29px;font-weight:400;color:#666;transform:scaleX(0.9307);">$3.200</div>
<div class="t" id="share" style="left:2198.88px;top:1097.82px;font-size:37px;font-weight:400;color:#fff;transform:scaleX(0.9173);-webkit-text-stroke:0.7px #fff;">Share</div>
<div class="t" id="copy" style="left:2058.61px;top:1157.52px;font-size:37px;font-weight:400;color:#fff;transform:scaleX(0.8920);-webkit-text-stroke:0.7px #fff;">Copy</div>
<div class="t" id="period" style="left:1561.69px;top:1103.80px;font-size:40px;font-weight:400;color:#000;transform:scaleX(1.0379)">1D | <span style="color:#97b3bf">1WK |</span> 1M | 1YR | Max</div>
</body></html>
